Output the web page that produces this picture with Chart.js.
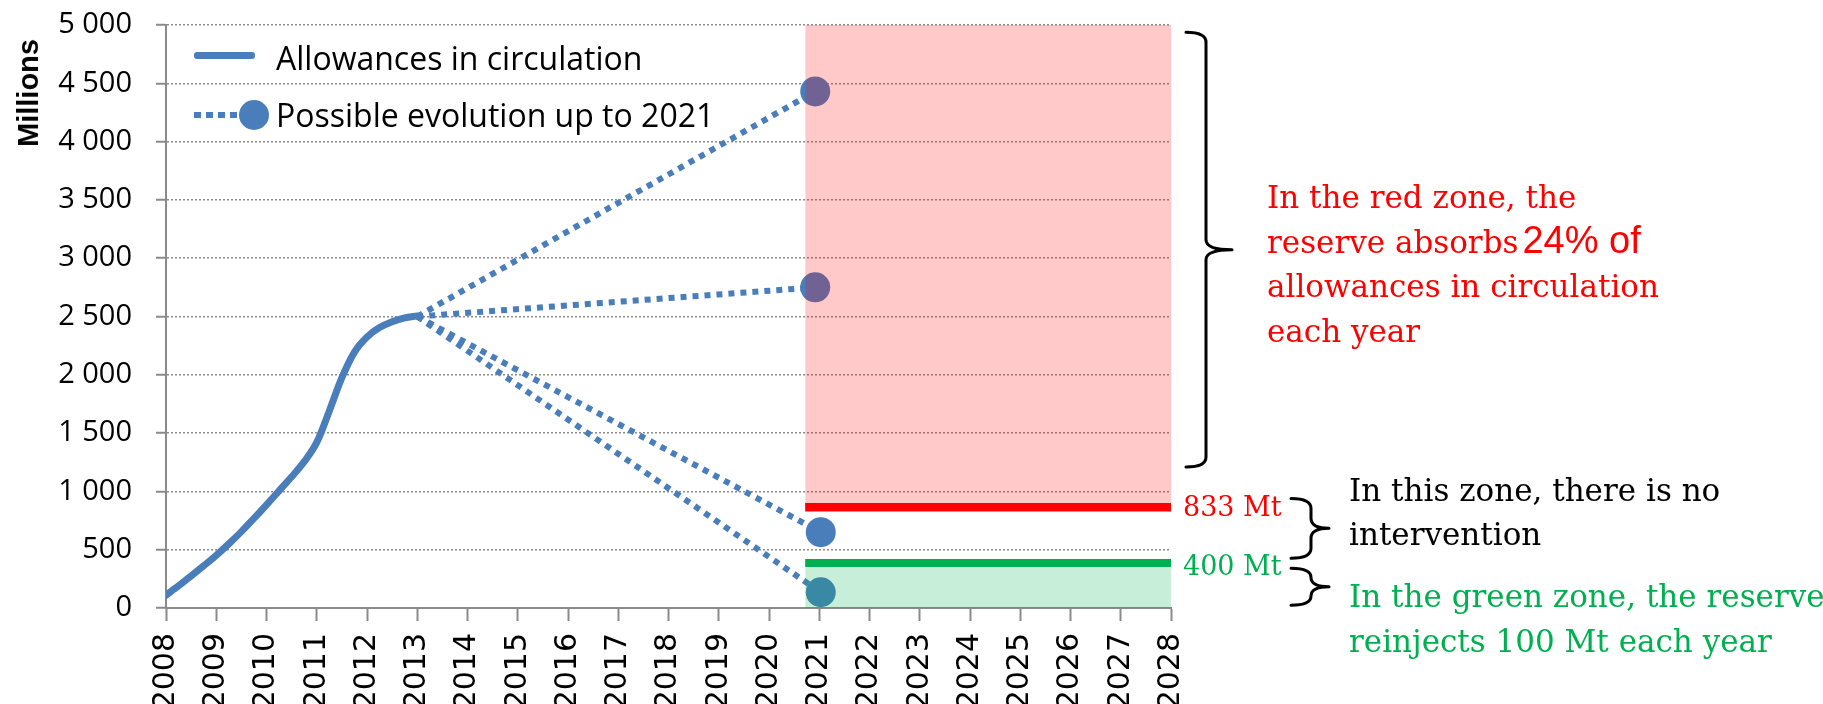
<!DOCTYPE html>
<html>
<head>
<meta charset="utf-8">
<title>Allowances in circulation</title>
<script src="https://cdn.jsdelivr.net/npm/chart.js@4.4.1/dist/chart.umd.min.js"></script>
<style>
  html, body { margin: 0; padding: 0; background: #fff; }
  #wrap { position: relative; width: 1823px; height: 704px; overflow: hidden; }
  #chart { position: absolute; left: 0; top: 0; }
  .txt { position: absolute; white-space: nowrap; }
  .serif { font-family: "DejaVu Serif", serif; font-size: 31px; }
  .legend-text { font-family: "Open Sans", sans-serif; font-size: 32px; line-height: 40px; color: #000; left: 276px; }
  .sans24 { font-family: "Liberation Sans", Arial, sans-serif; font-size: 38px; line-height: 0; margin-left: 4px; }
</style>
</head>
<body>
<div id="wrap">
  <canvas id="chart" width="1823" height="704"></canvas>

  <!-- titre de l'axe Y -->
  <div class="txt" id="ytitle" style="left:12px; top:39px; writing-mode:vertical-rl; transform:rotate(180deg);
       font-family:'Liberation Sans', Arial, sans-serif; font-weight:bold; font-size:29px; line-height:32px;">Millions</div>

  <!-- légende -->
  <div id="lg-line" style="position:absolute; left:194px; top:51.5px; width:61px; height:7px; border-radius:3px;"></div>
  <div id="lg-dash" style="position:absolute; left:194px; top:112px; width:44px; height:6px;"></div>
  <div id="lg-dot" style="position:absolute; left:239px; top:100px; width:30px; height:30px; border-radius:50%;"></div>
  <div class="txt legend-text" id="lg-text1" style="top:37.6px;"></div>
  <div class="txt legend-text" id="lg-text2" style="top:94.6px;"></div>

  <!-- annotations -->
  <div class="txt serif" style="left:1267px; top:175px; line-height:44.7px; color:#ff0000;">
    In the red zone, the<br>reserve absorbs<span class="sans24">24% of</span><br>allowances in circulation<br>each year
  </div>
  <div class="txt serif" style="left:1183px; top:491.3px; font-size:27px; line-height:32px; color:#ff0000;">833 Mt</div>
  <div class="txt serif" style="left:1183px; top:549.6px; font-size:27px; line-height:32px; color:#00b050;">400 Mt</div>
  <div class="txt serif" style="left:1349px; top:467.5px; line-height:44.3px; color:#000;">
    In this zone, there is no<br>intervention
  </div>
  <div class="txt serif" style="left:1349px; top:573.5px; line-height:45px; color:#00b050;">
    In the green zone, the reserve<br>reinjects 100 Mt each year
  </div>
</div>

<script>
// ========================
// Données
// ========================
const seriesNames = ["Allowances in circulation", "Possible evolution up to 2021"];

const xTickLabels = ["2008", "2009", "2010", "2011", "2012", "2013", "2014", "2015", "2016", "2017",
  "2018", "2019", "2020", "2021", "2022", "2023", "2024", "2025", "2026", "2027", "2028"];
const yTickLabels = ["0", "500", "1 000", "1 500", "2 000", "2 500", "3 000", "3 500", "4 000", "4 500", "5 000"];

// courbe des quotas en circulation (lecture tous les trimestres)
const curveYears = [2008, 2008.25, 2008.5, 2008.75, 2009, 2009.25, 2009.5, 2009.75, 2010, 2010.25, 2010.5,
  2010.75, 2011, 2011.25, 2011.5, 2011.75, 2012, 2012.25, 2012.5, 2012.75, 2013];
const curveValues = [110, 190, 275, 362, 452, 550, 655, 768, 885, 1005, 1125,
  1255, 1420, 1690, 1975, 2195, 2325, 2405, 2455, 2488, 2505];

// scénarios possibles jusqu'en 2021 (départ commun)
const scenarioStartYear = 2013;
const scenarioStartValue = 2500;
const scenarioEndYears = [2020.92, 2020.92, 2021.03, 2021.03];
const scenarioEndValues = [4430, 2750, 650, 135];

// zones de la réserve
const zoneYears = [2020.72, 2028];
const zoneTop = 5000;
const redLevel = 865;
const greenLevel = 385;

// accolades (valeurs de l'axe Y)
const braceFrom = [4937, 940, 340];
const braceTo = [1209, 426, 23];

// ========================
// Styles
// ========================
const BLUE = "#4a7ebb";
const GRID = "#8c8c8c";
const AXIS = "#8a8a8a";

const pts = (xs, ys) => xs.map((x, i) => ({ x, y: ys[i] }));

// légende HTML
document.getElementById("lg-line").style.background = BLUE;
document.getElementById("lg-dash").style.background =
  `repeating-linear-gradient(to right, ${BLUE} 0 7px, transparent 7px 12px)`;
document.getElementById("lg-dot").style.background = BLUE;
document.getElementById("lg-text1").textContent = seriesNames[0];
document.getElementById("lg-text2").textContent = seriesNames[1];

// ========================
// Accolades
// ========================
function drawBrace(ctx, x, yTop, yBot, hook, tip) {
  const mid = (yTop + yBot) / 2;
  const r = Math.min(10, (yBot - yTop) / 4);
  ctx.beginPath();
  ctx.moveTo(x - hook, yTop);
  ctx.quadraticCurveTo(x, yTop, x, yTop + r);
  ctx.lineTo(x, mid - r);
  ctx.quadraticCurveTo(x, mid, x + tip, mid);
  ctx.quadraticCurveTo(x, mid, x, mid + r);
  ctx.lineTo(x, yBot - r);
  ctx.quadraticCurveTo(x, yBot, x - hook, yBot);
  ctx.stroke();
}

const bracesPlugin = {
  id: "braces",
  afterDraw(chart) {
    const { ctx, chartArea, scales } = chart;
    const y = scales.y;
    const offsets = [35, 140, 140];
    const tips = [26, 18, 18];
    ctx.save();
    ctx.strokeStyle = "#000";
    ctx.lineWidth = 3;
    ctx.lineCap = "round";
    ctx.lineJoin = "round";
    braceFrom.forEach((v, i) => {
      drawBrace(ctx, chartArea.right + offsets[i], y.getPixelForValue(v), y.getPixelForValue(braceTo[i]), 20, tips[i]);
    });
    ctx.restore();
  }
};

// ========================
// Jeux de données
// ========================
const scenarioSets = scenarioEndValues.map((v, i) => ({
  label: seriesNames[1],
  data: [{ x: scenarioStartYear, y: scenarioStartValue }, { x: scenarioEndYears[i], y: v }],
  borderColor: BLUE,
  borderWidth: 6,
  borderDash: [6, 6],
  borderCapStyle: "butt",
  pointRadius: [0, 15],
  pointBackgroundColor: BLUE,
  pointBorderWidth: 0,
  fill: false
}));

const datasets = [
  { label: "833 Mt", data: pts(zoneYears, [redLevel, redLevel]), borderColor: "#ff0000", borderWidth: 8.5,
    borderCapStyle: "butt", pointRadius: 0, fill: false },
  { label: "400 Mt", data: pts(zoneYears, [greenLevel, greenLevel]), borderColor: "#00b050", borderWidth: 8,
    borderCapStyle: "butt", pointRadius: 0, fill: false },
  { label: "red zone", data: pts(zoneYears, [zoneTop, zoneTop]), borderColor: "transparent", borderWidth: 0,
    pointRadius: 0, fill: { value: redLevel }, backgroundColor: "rgba(255, 0, 0, 0.21)" },
  { label: "green zone", data: pts(zoneYears, [greenLevel, greenLevel]), borderColor: "transparent", borderWidth: 0,
    pointRadius: 0, fill: "origin", backgroundColor: "rgba(0, 176, 80, 0.22)" },
  { label: seriesNames[0], data: pts(curveYears, curveValues), borderColor: BLUE, borderWidth: 7,
    pointRadius: 0, cubicInterpolationMode: "monotone", fill: false, borderCapStyle: "round", borderJoinStyle: "round" },
  ...scenarioSets
];

// ========================
// Graphique
// ========================
const ctx = document.getElementById("chart").getContext("2d");
new Chart(ctx, {
  type: "line",
  data: { datasets },
  options: {
    responsive: false,
    animation: false,
    events: [],
    layout: { padding: { left: 0, right: 652, top: 25, bottom: 0 } },
    plugins: {
      legend: { display: false },
      tooltip: { enabled: false }
    },
    scales: {
      x: {
        type: "linear",
        min: 2008,
        max: 2028,
        afterFit: s => { s.height = 96; },
        ticks: {
          stepSize: 1,
          autoSkip: false,
          maxRotation: 90,
          minRotation: 90,
          padding: 12,
          color: "#000",
          font: { family: "DejaVu Sans", size: 30 },
          callback: (v, i) => xTickLabels[i]
        },
        grid: { drawOnChartArea: false, tickLength: 13, tickColor: AXIS, tickWidth: 2 },
        border: { color: AXIS, width: 2 }
      },
      y: {
        min: 0,
        max: 5000,
        afterFit: s => { s.width = 166; s.paddingTop = 0; s.paddingBottom = 0; },
        ticks: {
          stepSize: 500,
          padding: 24,
          color: "#000",
          font: { family: "Open Sans", size: 29 },
          callback: (v, i) => yTickLabels[i]
        },
        grid: { color: GRID, lineWidth: 1.5, tickLength: 10, tickColor: AXIS, tickWidth: 2, tickBorderDash: [] },
        border: { color: AXIS, width: 2, dash: [2, 2] }
      }
    }
  },
  plugins: [bracesPlugin]
});
</script>
</body>
</html>
